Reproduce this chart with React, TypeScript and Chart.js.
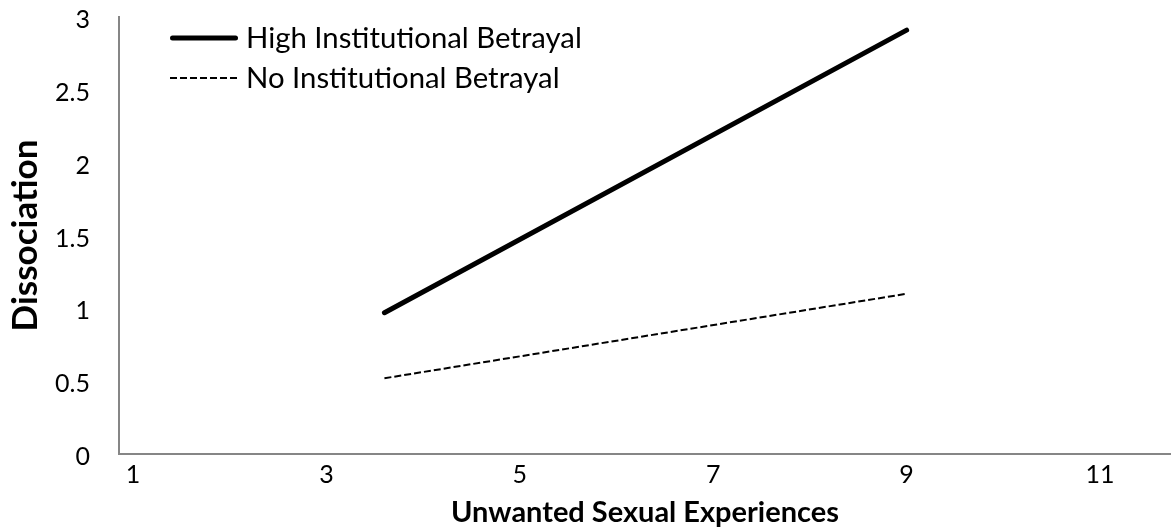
import React, { useEffect, useRef } from 'react';
import { Chart, registerables } from 'chart.js';

Chart.register(...registerables);

// ---- data ----
const xValues = [3.6, 9.0];
const highBetrayal = [0.97, 2.91];
const noBetrayal = [0.52, 1.1];
const seriesLabels = ['High Institutional Betrayal', 'No Institutional Betrayal'];
const xTicks = [1, 3, 5, 7, 9, 11];
const yTicks = [0, 0.5, 1, 1.5, 2, 2.5, 3];
const xTitle = 'Unwanted Sexual Experiences';
const yTitle = 'Dissociation';

const FONT = 'Lato, "Open Sans", sans-serif';
const AXIS_COLOR = '#868686';

function fitSize(text: string, weight: string, width: number): number {
  const c = document.createElement('canvas').getContext('2d') as CanvasRenderingContext2D;
  c.font = `${weight} 100px ${FONT}`;
  const w = c.measureText(text).width;
  return (100 * width) / w;
}

const insideLegend = {
  id: 'insideLegend',
  afterDraw(chart: any, _args: any, opts: any) {
    const ctx: CanvasRenderingContext2D = chart.ctx;
    ctx.save();
    chart.data.datasets.forEach((ds: any, i: number) => {
      const y = opts.y0 + i * opts.gap;
      ctx.beginPath();
      ctx.strokeStyle = ds.borderColor;
      ctx.lineWidth = ds.borderWidth;
      ctx.setLineDash(ds.borderDash || []);
      ctx.lineCap = ds.borderCapStyle || 'butt';
      const inset = ds.borderCapStyle === 'round' ? ds.borderWidth / 2 : 0;
      ctx.moveTo(opts.x0 + inset, y);
      ctx.lineTo(opts.x1 - inset, y);
      ctx.stroke();
      ctx.setLineDash([]);
      ctx.fillStyle = '#000';
      ctx.font = `${opts.size}px ${FONT}`;
      ctx.textBaseline = 'middle';
      ctx.textAlign = 'left';
      ctx.fillText(ds.label, opts.textX, y + opts.textDy);
    });
    ctx.restore();
  },
};

export default function App() {
  const canvasRef = useRef<HTMLCanvasElement | null>(null);

  useEffect(() => {
    if (!canvasRef.current) return;
    const legendSize = fitSize(seriesLabels[0], 'normal', 336);
    const xTitleSize = fitSize(xTitle, 'bold', 388);
    const yTitleSize = fitSize(yTitle, 'bold', 192);

    const chart = new Chart(canvasRef.current, {
      type: 'line',
      data: {
        datasets: [
          {
            label: seriesLabels[0],
            data: xValues.map((x, i) => ({ x, y: highBetrayal[i] })),
            borderColor: '#000',
            borderWidth: 5,
            borderCapStyle: 'round',
            pointRadius: 0,
            fill: false,
            tension: 0,
          },
          {
            label: seriesLabels[1],
            data: xValues.map((x, i) => ({ x, y: noBetrayal[i] })),
            borderColor: '#000',
            borderWidth: 2,
            borderDash: [7, 3],
            borderCapStyle: 'butt',
            pointRadius: 0,
            fill: false,
            tension: 0,
          },
        ],
      },
      options: {
        animation: false,
        responsive: false,
        layout: { padding: { top: 17, right: 0, left: 0, bottom: 0 } },
        plugins: {
          legend: { display: false },
          tooltip: { enabled: false },
          insideLegend: {
            x0: 170,
            x1: 238,
            y0: 38,
            gap: 40,
            textX: 246,
            textDy: 1,
            size: legendSize,
          },
        } as any,
        scales: {
          x: {
            type: 'linear',
            min: 0.855,
            max: 11.734,
            afterBuildTicks: (scale: any) => {
              scale.ticks = xTicks.map((v) => ({ value: v }));
            },
            afterFit: (scale: any) => {
              scale.height = 75;
              scale.paddingLeft = 0;
              scale.paddingRight = 0;
            },
            grid: { display: false, drawTicks: false },
            border: { display: true, color: AXIS_COLOR, width: 2 },
            ticks: {
              color: '#000',
              font: { family: FONT, size: 25 },
              padding: 6,
              maxRotation: 0,
              autoSkip: false,
              callback: (v: any) => String(v),
            },
            title: {
              display: true,
              text: xTitle,
              color: '#000',
              font: { family: FONT, size: xTitleSize, weight: 'bold', lineHeight: 1 },
              padding: { top: 0, bottom: 529 - 513 - xTitleSize / 2 },
            },
          },
          y: {
            type: 'linear',
            min: 0,
            max: 3,
            afterBuildTicks: (scale: any) => {
              scale.ticks = yTicks.map((v) => ({ value: v }));
            },
            afterFit: (scale: any) => {
              scale.width = 119;
              scale.paddingTop = 0;
              scale.paddingBottom = 0;
            },
            grid: { display: false, drawTicks: false },
            border: { display: true, color: AXIS_COLOR, width: 2 },
            ticks: {
              color: '#000',
              font: { family: FONT, size: 25 },
              padding: 29,
              labelOffset: 3,
              autoSkip: false,
              callback: (v: any) => String(v),
            },
            title: {
              display: true,
              text: yTitle,
              color: '#000',
              font: { family: FONT, size: yTitleSize, weight: 'bold', lineHeight: 1 },
              padding: { top: 26 - yTitleSize / 2, bottom: 0 },
            },
          },
        },
      },
      plugins: [insideLegend as any],
    });
    return () => chart.destroy();
  }, []);

  return (
    <div style={{ position: 'fixed', left: 0, top: 0, width: 1171, height: 529, background: '#fff' }}>
      <canvas ref={canvasRef} width={1171} height={529} />
    </div>
  );
}
